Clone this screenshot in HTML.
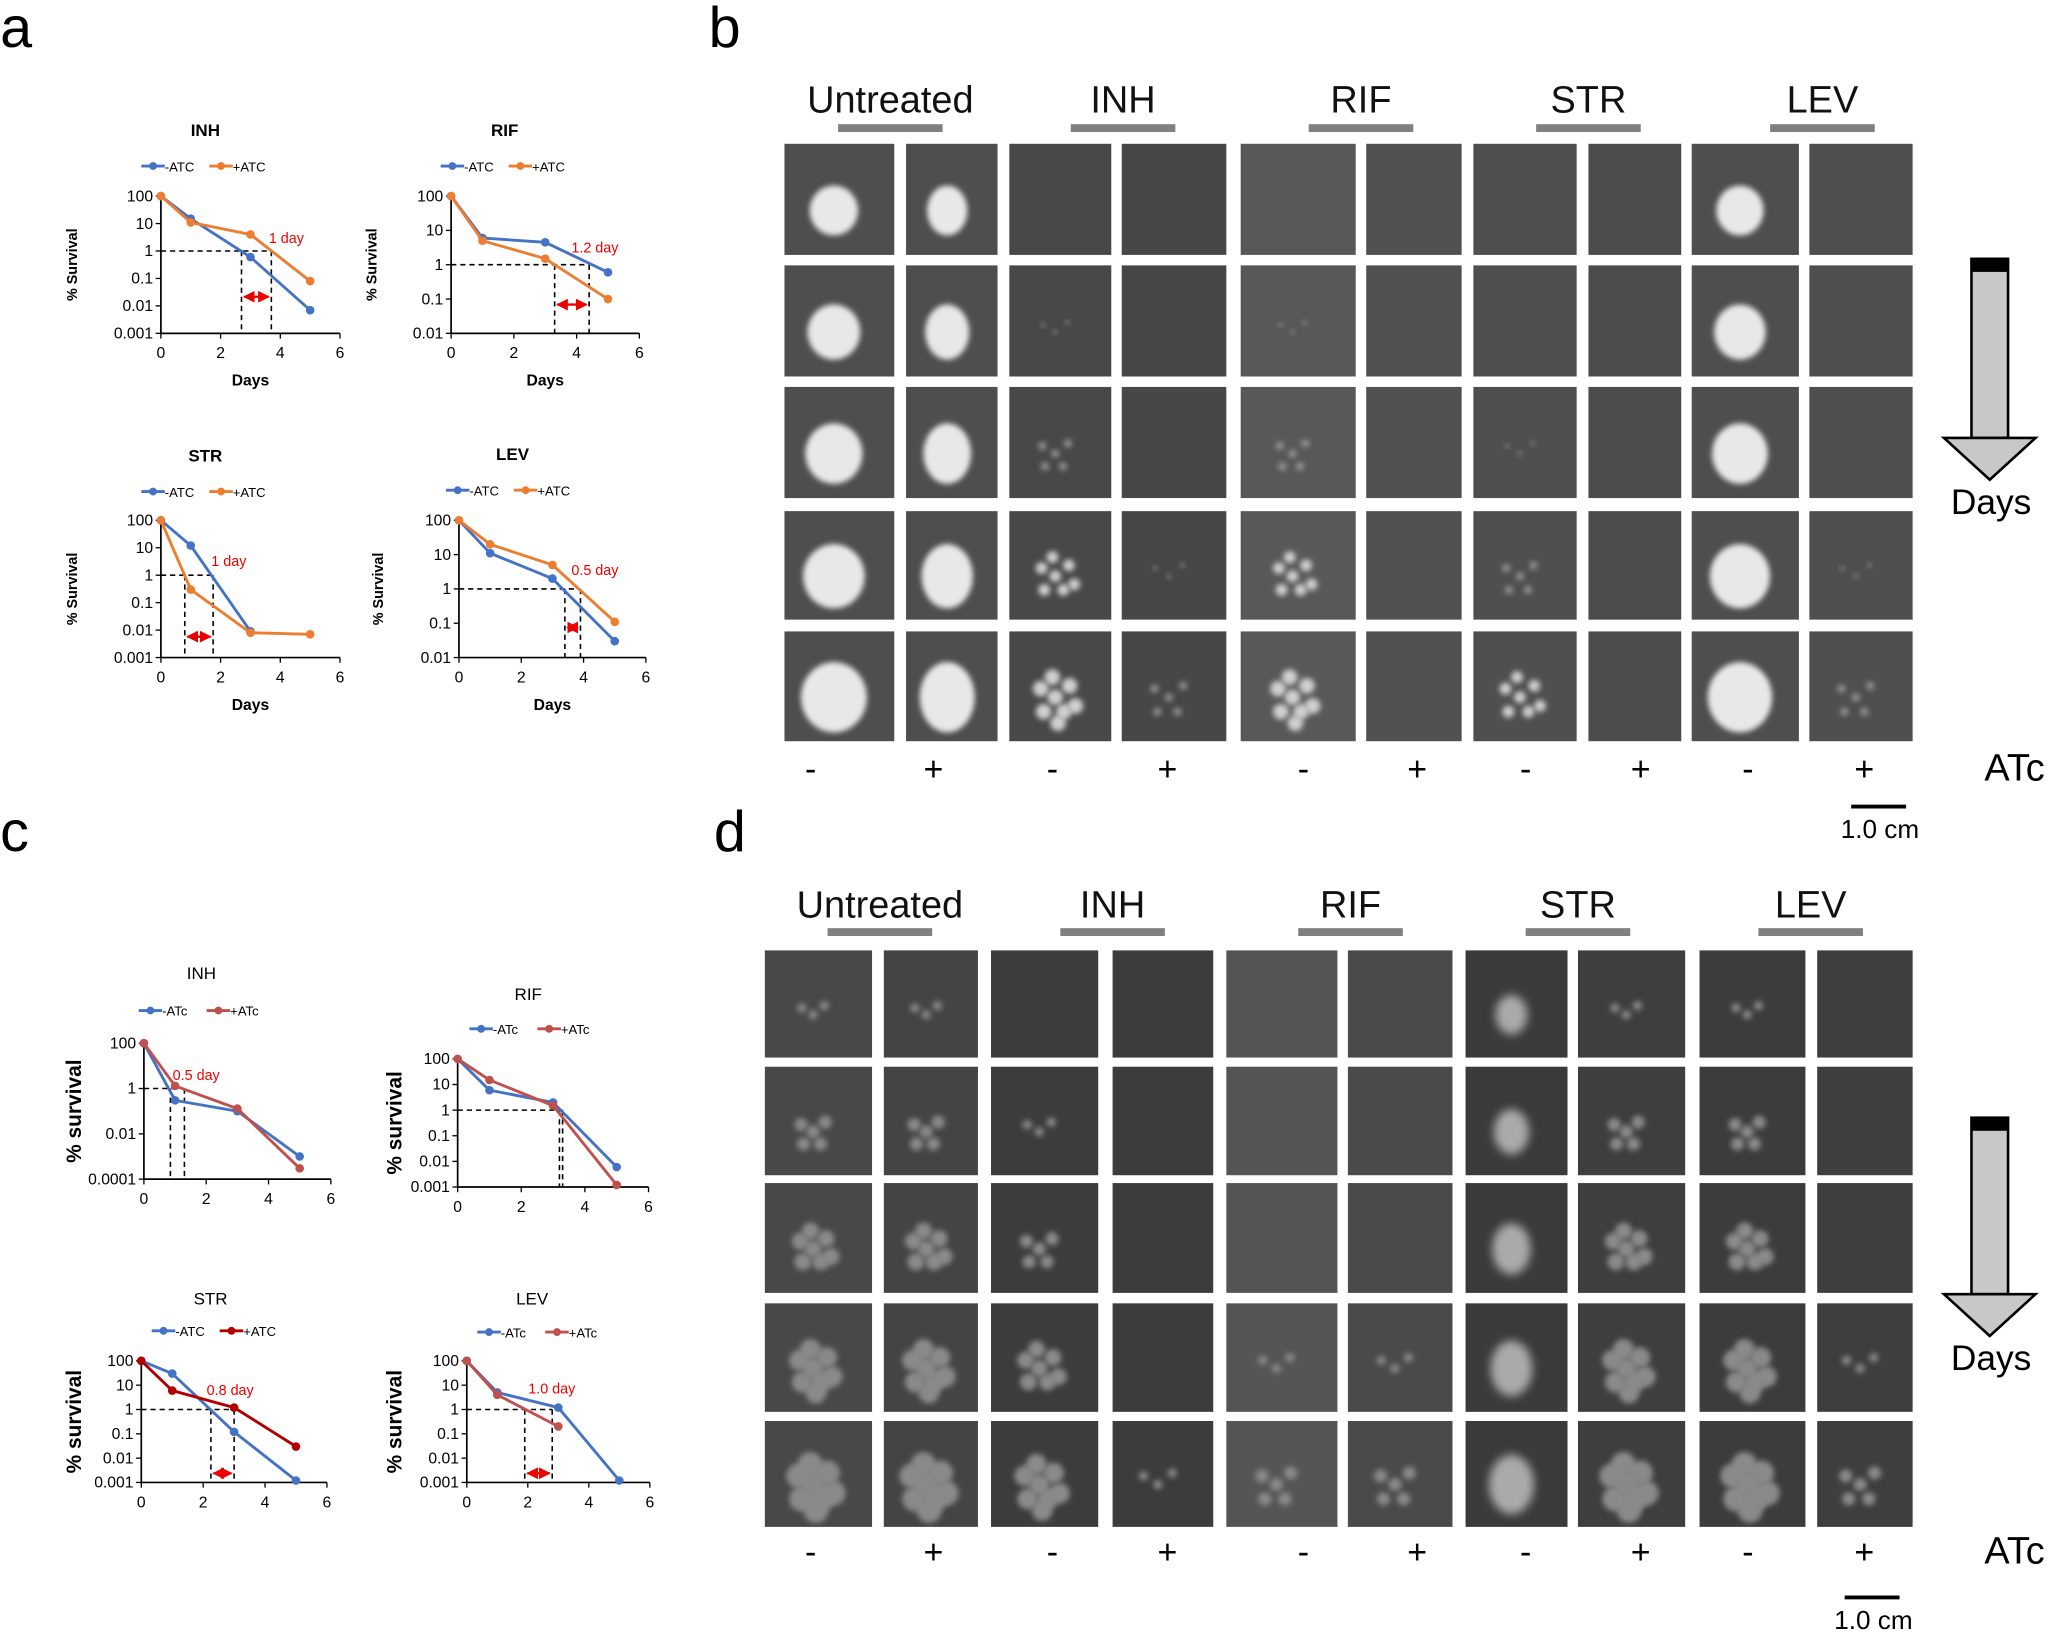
<!DOCTYPE html>
<html><head><meta charset="utf-8"><style>
html,body{margin:0;padding:0;background:#fff;}
svg{display:block;}
text{font-family:"Liberation Sans",sans-serif;}
</style></head><body>
<svg id="s" width="2050" height="1638" viewBox="0 0 1568 1253" xmlns="http://www.w3.org/2000/svg">
<defs>
<filter id="bl" x="-50%" y="-50%" width="200%" height="200%"><feGaussianBlur stdDeviation="2"/></filter>
<filter id="bl2" x="-50%" y="-50%" width="200%" height="200%"><feGaussianBlur stdDeviation="3.5"/></filter>
<marker id="ar" viewBox="0 0 10 10" refX="9" refY="5" markerWidth="5" markerHeight="5" orient="auto-start-reverse"><path d="M0,0L10,5L0,10z" fill="#e00"/></marker>
</defs>
<g id="g"></g>
<text x="0" y="36" font-size="44">a</text>
<text x="542" y="36" font-size="44">b</text>
<text x="0" y="651" font-size="44">c</text>
<text x="546" y="651" font-size="44">d</text>
</svg>
<script>
var g=document.getElementById('g'),h='';
function L(x1,y1,x2,y2,c,w,d,ex){h+='<line x1="'+x1+'" y1="'+y1+'" x2="'+x2+'" y2="'+y2+'" stroke="'+c+'" stroke-width="'+w+'"'+(d?' stroke-dasharray="'+d+'"':'')+(ex||'')+'/>';}
function T(x,y,s,t,o){h+='<text x="'+x+'" y="'+y+'" font-size="'+s+'" '+(o||'text-anchor="middle"')+'>'+t+'</text>';}
function chart(o){
 var lt=Math.log10(o.top),lb=Math.log10(o.bot);
 var X=function(d){return o.x0+d*(o.x6-o.x0)/6;},Y=function(v){return o.yT+(lt-Math.log10(v))/(lt-lb)*(o.yB-o.yT);};
 var fs=o.fs||12;
 T(o.tx,o.ty,fs+1,o.title,'text-anchor="middle"'+(o.bold?' font-weight="bold"':''));
 var lx=o.lx,ly=o.ly,lab=o.labs;
 L(lx,ly,lx+18,ly,o.c1,2.2);h+='<circle cx="'+(lx+9)+'" cy="'+ly+'" r="3" fill="'+o.c1+'"/>';T(lx+18,ly+4,fs-2,lab[0],'text-anchor="start"');
 L(lx+52,ly,lx+70,ly,o.c2,2.2);h+='<circle cx="'+(lx+61)+'" cy="'+ly+'" r="3" fill="'+o.c2+'"/>';T(lx+70,ly+4,fs-2,lab[1],'text-anchor="start"');
 L(o.x0,o.yT,o.x0,o.yB,'#000',1.3);L(o.x0,o.yB,o.x6,o.yB,'#000',1.3);
 o.ticks.forEach(function(t){var y=Y(t[0]);L(o.x0-4,y,o.x0,y,'#000',1);T(o.x0-6,y+4,fs,t[1],'text-anchor="end"');});
 for(var d=0;d<=6;d+=2){L(X(d),o.yB,X(d),o.yB+4,'#000',1);T(X(d),o.yB+19,fs,d);}
 if(o.days)T((o.x0+o.x6)/2,o.yB+40,fs,'Days','text-anchor="middle" font-weight="bold"');
 h+='<text transform="translate('+o.yl+','+(o.yT+o.yB)/2+') rotate(-90)" font-size="'+(o.ylfs||fs)+'" text-anchor="middle" font-weight="bold">'+o.ylab+'</text>';
 var y1=Y(1),va=o.v;L(o.x0,y1,X(va[1]),y1,'#000',1.2,'4,3');
 L(X(va[0]),y1,X(va[0]),o.yB,'#000',1.2,'4,3');L(X(va[1]),y1,X(va[1]),o.yB,'#000',1.2,'4,3');
 if(o.ay)L(X(va[0])+2,o.ay,X(va[1])-2,o.ay,'#e00',1.8,null,' marker-start="url(#ar)" marker-end="url(#ar)"');
 T(o.ann[0],o.ann[1],fs-1,o.ann[2],'text-anchor="middle" fill="#e00"');
 [[o.s1,o.c1],[o.s2,o.c2]].forEach(function(s){var p=s[0].map(function(q){return X(q[0])+','+Y(q[1]);}).join(' ');
  h+='<polyline points="'+p+'" fill="none" stroke="'+s[1]+'" stroke-width="2.2"/>';
  s[0].forEach(function(q){h+='<circle cx="'+X(q[0])+'" cy="'+Y(q[1])+'" r="3.3" fill="'+s[1]+'"/>';});});
}
var B='#4472c4',O='#ed7d31',R='#c0504d';
var t5=[[100,'100'],[10,'10'],[1,'1'],[0.1,'0.1'],[0.01,'0.01'],[0.001,'0.001']],t4=t5.slice(0,5);
var A={bold:1,days:1,fs:12,labs:['-ATC','+ATC'],c1:B,c2:O,ylab:'% Survival',ylfs:11};
function M(a,b){var r={};for(var k in a)r[k]=a[k];for(k in b)r[k]=b[k];return r;}
chart(M(A,{title:'INH',tx:157,ty:104,lx:108,ly:127,x0:123,x6:260,yT:150,yB:255,top:100,bot:0.001,ticks:t5,yl:59,
 s1:[[0,100],[1,15],[3,0.6],[5,0.007]],s2:[[0,100],[1,11],[3,4],[5,0.08]],v:[2.7,3.7],ay:227,ann:[219,186,'1 day']}));
chart(M(A,{title:'RIF',tx:386,ty:104,lx:337,ly:127,x0:345,x6:489,yT:150,yB:255,top:100,bot:0.01,ticks:t4,yl:288,
 s1:[[0,100],[1,6],[3,4.5],[5,0.6]],s2:[[0,100],[1,5],[3,1.5],[5,0.1]],v:[3.3,4.4],ay:233,ann:[455,193,'1.2 day']}));
chart(M(A,{title:'STR',tx:157,ty:353,lx:108,ly:376,x0:123,x6:260,yT:398,yB:503,top:100,bot:0.001,ticks:t5,yl:59,
 s1:[[0,100],[1,12],[3,0.009]],s2:[[0,100],[1,0.3],[3,0.008],[5,0.007]],v:[0.8,1.75],ay:487,ann:[175,433,'1 day']}));
chart(M(A,{title:'LEV',tx:392,ty:352,lx:341,ly:375,x0:351,x6:494,yT:398,yB:503,top:100,bot:0.01,ticks:t4,yl:293,
 s1:[[0,100],[1,11],[3,2],[5,0.03]],s2:[[0,100],[1,20],[3,5],[5,0.11]],v:[3.4,3.9],ay:480,ann:[455,440,'0.5 day']}));
var C={bold:0,days:0,fs:12,labs:['-ATc','+ATc'],c1:B,c2:R,ylab:'% survival',ylfs:16};
chart(M(C,{title:'INH',tx:154,ty:749,lx:106,ly:773,x0:110,x6:253,yT:798,yB:902,top:100,bot:0.0001,ticks:[[100,'100'],[1,'1'],[0.01,'0.01'],[0.0001,'0.0001']],yl:62,
 s1:[[0,100],[1,0.3],[3,0.1],[5,0.001]],s2:[[0,100],[1,1.3],[3,0.13],[5,0.0003]],v:[0.85,1.3],ay:0,ann:[150,826,'0.5 day']}));
chart(M(C,{title:'RIF',tx:404,ty:765,lx:359,ly:787,x0:350,x6:496,yT:810,yB:908,top:100,bot:0.001,ticks:t5,yl:307,
 s1:[[0,100],[1,6],[3,2],[5,0.006]],s2:[[0,100],[1,15],[3,1.5],[5,0.0012]],v:[3.2,3.3],ay:0,ann:[0,0,'']}));
chart(M(C,{title:'STR',tx:161,ty:998,lx:116,ly:1018,x0:108,x6:250,yT:1041,yB:1134,top:100,bot:0.001,ticks:t5,yl:62,labs:['-ATC','+ATC'],c2:'#b00000',
 s1:[[0,100],[1,30],[3,0.12],[5,0.0012]],s2:[[0,100],[1,6],[3,1.2],[5,0.03]],v:[2.25,3.0],ay:1127,ann:[176,1067,'0.8 day']}));
chart(M(C,{title:'LEV',tx:407,ty:998,lx:365,ly:1019,x0:357,x6:497,yT:1041,yB:1134,top:100,bot:0.001,ticks:t5,yl:307,
 s1:[[0,100],[1,5],[3,1.2],[5,0.0012]],s2:[[0,100],[1,4],[3,0.2]],v:[1.9,2.8],ay:1127,ann:[422,1066,'1.0 day']}));
function panel(cols,rows,hy,by,names,nx,sy,bg,kinds,soft,arr,sb){
 names.forEach(function(n,i){T(nx[i],hy,29,n,'text-anchor="middle" fill="#111"');h+='<rect x="'+(nx[i]-40)+'" y="'+by+'" width="80" height="6" fill="#808080"/>';});
 cols.forEach(function(c,ci){rows.forEach(function(r,ri){
  var w=c[1]-c[0],hh=r[1]-r[0];h+='<rect x="'+c[0]+'" y="'+r[0]+'" width="'+w+'" height="'+hh+'" fill="'+bg[ci]+'"/>';
  var k=kinds[ci],cx=c[0]+w*0.45,cy=r[0]+hh*0.6,f=(ri+1)/5;
  if(k=='B'){h+='<ellipse cx="'+cx+'" cy="'+cy+'" rx="'+(w*(soft?0.14+0.08*f:0.2+0.1*f))+'" ry="'+(hh*(soft?0.16+0.12*f:0.2+0.12*f))+'" fill="'+(soft?'#aaa':'#e8e8e8')+'" filter="url(#'+(soft?'bl2':'bl')+')"/>';}
  else if(k[0]=='D'){var st=+k[1];if(ri>=st){var n=ri-st;var col=soft?'#8a8a8a':(n>1?'#d0d0d0':'#999');var rr=1.5+n*1.5;
   var pts=[[0,0],[10,-8],[-10,-6],[6,10],[-8,10],[14,6],[-2,-14],[2,18]];pts.slice(0,3+n*2).forEach(function(p){h+='<circle cx="'+(cx+p[0]*(0.8+f*0.3))+'" cy="'+(cy+p[1]*(0.8+f*0.3))+'" r="'+(rr+(soft?2:0))+'" fill="'+col+'" filter="url(#bl)"/>';});}}
 });});
 var sg=['-','+','-','+','-','+','-','+','-','+'],sx=[620,714,805,893,997,1084,1167,1255,1337,1426];
 sg.forEach(function(s,i){T(sx[i],sy,26,s);});T(1541,sy,29,'ATc');
 var a=arr;h+='<rect x="1508" y="'+a[0]+'" width="28" height="'+(a[1]-a[0])+'" fill="#c8c8c8" stroke="#000" stroke-width="2"/>';
 h+='<rect x="1508" y="'+a[0]+'" width="28" height="10" fill="#000"/>';
 h+='<polygon points="1487,'+a[1]+' 1557,'+a[1]+' 1522,'+a[2]+'" fill="#c8c8c8" stroke="#000" stroke-width="2"/>';
 T(1523,a[2]+26,27,'Days');
 L(sb[0],sb[1],sb[0]+42,sb[1],'#000',3);T(sb[0]+22,sb[1]+24,20,'1.0 cm');
}
panel([[600,684],[693,763],[772,850],[858,938],[949,1037],[1045,1118],[1127,1206],[1215,1286],[1294,1376],[1384,1463]],
 [[110,195],[203,288],[296,381],[391,474],[483,567]],86,95,['Untreated','INH','RIF','STR','LEV'],[681,859,1041,1215,1394],597,
 ['#4e4e4e','#4e4e4e','#484848','#474747','#585858','#515151','#4f4f4f','#4c4c4c','#4e4e4e','#4f4f4f'],
 ['B','B','D1','D3','D1','x','D2','x','B','D3'],0,[198,335,367],[1416,617]);
panel([[585,667],[676,748],[758,840],[851,928],[938,1023],[1031,1111],[1121,1199],[1207,1289],[1300,1381],[1390,1463]],
 [[727,809],[816,899],[905,989],[997,1080],[1087,1168]],702,710,['Untreated','INH','RIF','STR','LEV'],[673,851,1033,1207,1385],1196,
 ['#484848','#444','#3c3c3c','#3c3c3c','#555','#4a4a4a','#3a3a3a','#3e3e3e','#3c3c3c','#3e3e3e'],
 ['D0','D0','D1','D4','D3','D3','B','D0','D0','D3'],1,[855,990,1022],[1411,1222]);
g.innerHTML=h;
</script>
</body></html>
